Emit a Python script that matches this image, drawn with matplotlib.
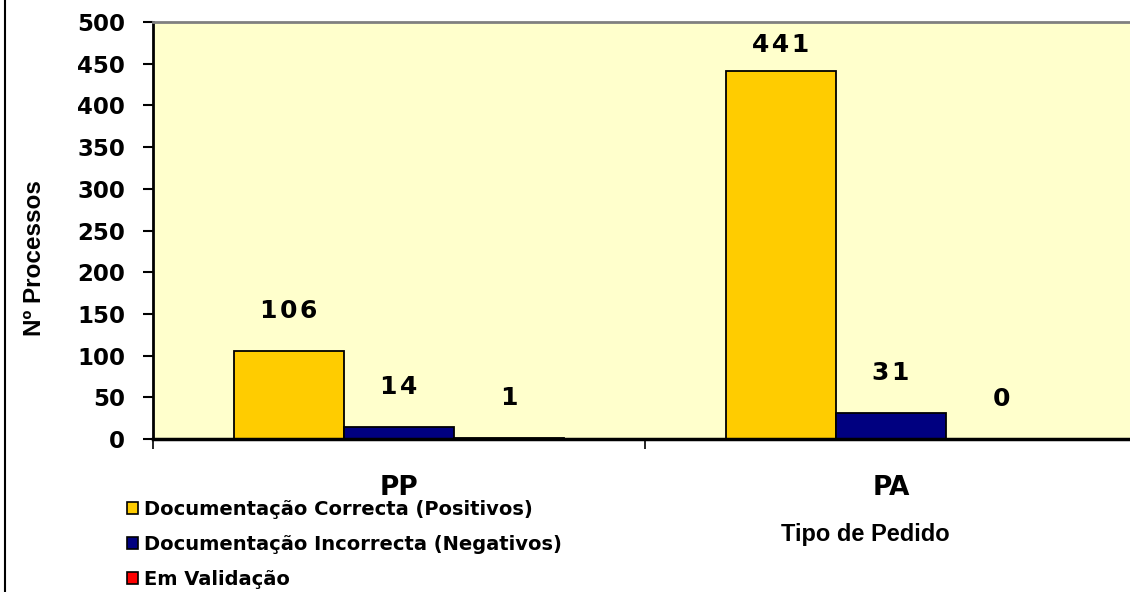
import matplotlib
matplotlib.use("Agg")
import matplotlib.pyplot as plt
from matplotlib.lines import Line2D
from matplotlib.patches import Patch
import numpy as np

categories = ["PP", "PA"]
series_names = ["Documentação Correcta (Positivos)",
                "Documentação Incorrecta (Negativos)",
                "Em Validação"]
correcta = [106, 441]
incorrecta = [14, 31]
validacao = [1, 0]
yticks = [0, 50, 100, 150, 200, 250, 300, 350, 400, 450, 500]
colors = ["#FFCC00", "#000080", "#FF0000"]

fig = plt.figure(figsize=(11.3, 5.92), dpi=100)
ax = fig.add_axes([153/1130, (592-439)/592, 984/1130, (439-22)/592])
ax.set_facecolor("#FFFFCC")

x = np.arange(len(categories))
w = 0.2236
for i, (vals, c) in enumerate(zip([correcta, incorrecta, validacao], colors)):
    xs = x + (i - 1) * w
    ax.bar(xs, vals, width=w, color=c, edgecolor="black", linewidth=1.3, zorder=2)
    for xi, v in zip(xs, vals):
        ax.text(xi, min(v + 48, 472), "\u200a".join(str(v)), ha="center", va="center",
                fontsize=18, fontweight="bold", family="DejaVu Sans", zorder=3)

ax.set_xlim(-0.5, 1.5)
ax.set_ylim(0, 500)
ax.set_yticks(yticks)
ax.set_yticklabels([str(t) for t in yticks], fontsize=16.5, fontweight="bold", family="DejaVu Sans")
ax.set_xticks(x)
ax.set_xticklabels(categories, fontsize=19, fontweight="bold", family="DejaVu Sans")
ax.tick_params(axis="x", which="major", length=0, pad=26)
ax.set_xticks([-0.5, 0.5, 1.5], minor=True)
ax.tick_params(axis="x", which="minor", length=7, width=1.2, direction="out")
ax.tick_params(axis="y", length=7, width=1.5, direction="out", pad=13)

ax.spines["left"].set_linewidth(2)
ax.spines["bottom"].set_linewidth(2.5)
ax.spines["top"].set_color("#808080")
ax.spines["top"].set_linewidth(2)
ax.spines["right"].set_visible(False)

fig.text(35/1130, 1 - 258/592, "Nº Processos", rotation=90, ha="center", va="center",
         fontsize=17.5, fontweight="bold", family="Liberation Sans")
fig.text(865/1130, 1 - 534/592, "Tipo de Pedido", ha="center", va="center",
         fontsize=17, fontweight="bold", family="Liberation Sans")

handles = [Patch(facecolor=c, edgecolor="black", linewidth=1.2) for c in colors]
leg = fig.legend(handles, series_names, loc="upper left",
                 bbox_to_anchor=(127/1130, 1 - 500/592), frameon=False,
                 prop={"family": "DejaVu Sans", "weight": "bold", "size": 14},
                 handlelength=0.55, handleheight=0.55, handletextpad=0.35,
                 labelspacing=0.82, borderaxespad=0, borderpad=0)

fig.add_artist(Line2D([5/1130, 5/1130], [0, 1], color="black", linewidth=1.5,
                      transform=fig.transFigure))

fig.savefig("out.png", dpi=100)
